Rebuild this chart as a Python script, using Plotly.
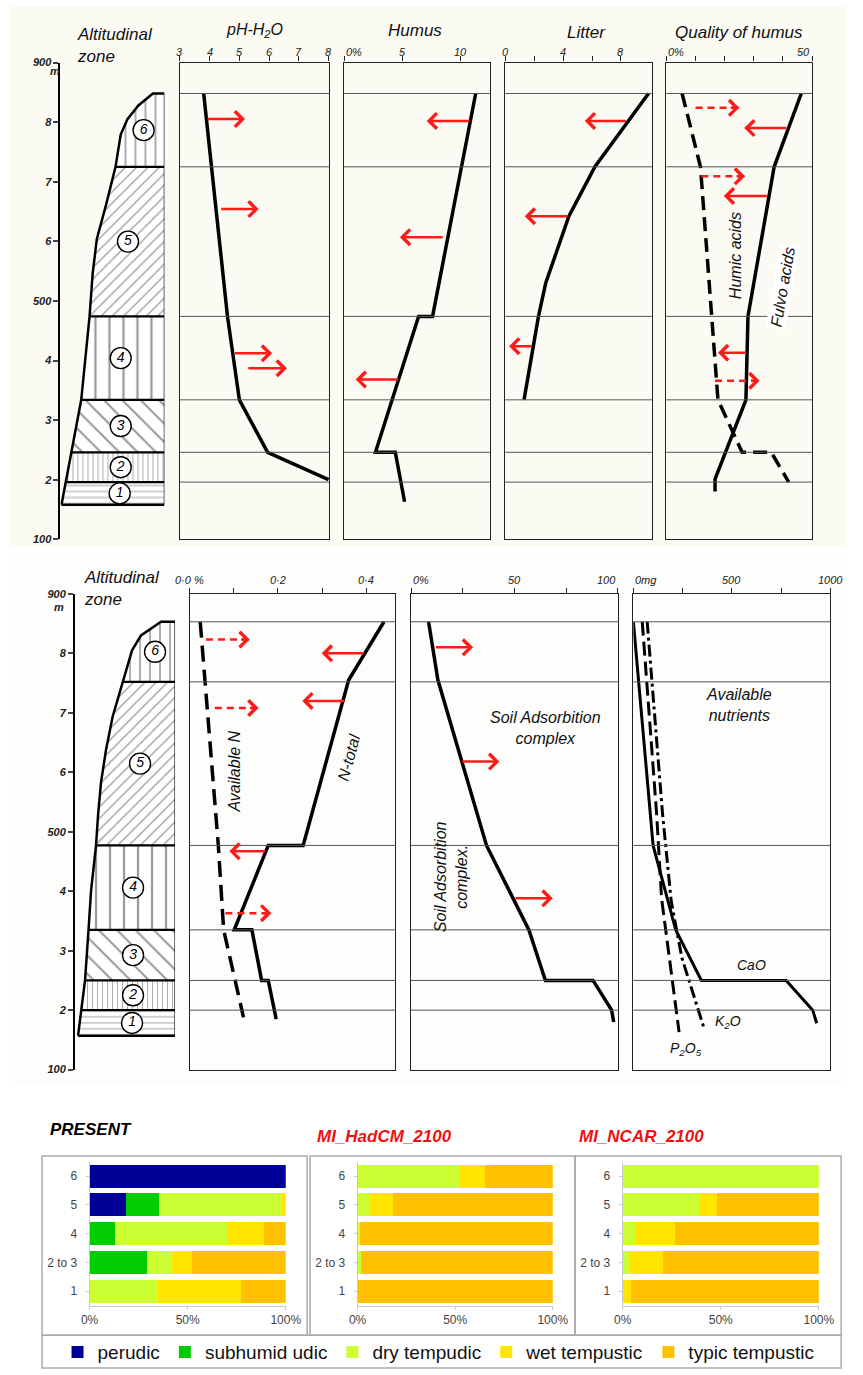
import numpy as np
import plotly.graph_objects as go

W, H = 863, 1375
FONT = "Liberation Sans, Arial, sans-serif"
RED = "#ff1a1a"

# ---------------------------------------------------------------- data ----
ALT_TICKS = [100, 200, 300, 400, 500, 600, 700, 800, 900]
ALT_TEXT = ["100", "2", "3", "4", "500", "6", "7", "8", "900"]
ZONES = ["1", "2", "3", "4", "5", "6"]

# zone boundaries (m a.s.l.): base of zone 1, then the top of zones 1..6
zone_bounds_upper = [158, 196, 246, 334, 474, 725, 848]
zone_bounds_lower = [157, 200, 250, 335, 477, 752, 853]

# outline of the mountain profile: altitude vs. relative position in the column
profile_alt_upper = [158, 196, 246, 334, 474, 546, 604, 662, 725, 779, 805, 828, 848]
profile_pos_upper = [0.01, 0.05, 0.10, 0.20, 0.28, 0.31, 0.35, 0.44, 0.53, 0.58, 0.645, 0.75, 0.89]
profile_alt_lower = [157, 200, 250, 335, 400, 477, 527, 583, 638, 693, 752, 805, 830, 853]
profile_pos_lower = [0.03, 0.06, 0.10, 0.135, 0.16, 0.21, 0.23, 0.26, 0.31, 0.375, 0.48, 0.57, 0.66, 0.86]

# soil properties along the altitudinal gradient
ph_alt = [848, 474, 334, 246, 200]
ph_val = [3.8, 4.6, 5.0, 5.95, 8.0]

humus_alt = [848, 474, 474, 246, 246, 163]
humus_val = [11.3, 7.6, 6.4, 2.7, 4.4, 5.2]

litter_alt = [848, 725, 642, 530, 474, 334]
litter_val = [9.9, 6.2, 4.4, 2.8, 2.3, 1.3]

fulvo_alt = [848, 725, 474, 334, 201, 180]
fulvo_val = [46.3, 37.0, 28.0, 27.3, 16.7, 16.7]
humic_alt = [848, 725, 334, 246, 246, 196]
humic_val = [5.4, 11.7, 17.7, 26.0, 36.0, 42.0]

ntotal_alt = [853, 755, 477, 477, 335, 335, 250, 250, 185]
ntotal_val = [0.44, 0.36, 0.257, 0.178, 0.101, 0.141, 0.163, 0.178, 0.196]
navail_alt = [853, 755, 477, 335, 188]
navail_val = [0.024, 0.035, 0.065, 0.077, 0.122]

sac_alt = [853, 755, 477, 335, 250, 250, 200, 180]
sac_val = [8.5, 13.0, 36.5, 57.0, 65.0, 88.0, 97.0, 98.0]

cao_alt = [853, 477, 335, 250, 250, 200, 178]
cao_val = [0, 100, 215, 345, 775, 910, 930]
k2o_alt = [853, 530, 383, 288, 168]
k2o_val = [70, 148, 192, 246, 360]
p2o5_alt = [853, 530, 388, 163]
p2o5_val = [45, 118, 143, 232]

# expected shifts: (altitude, from, to, dashed)
ph_arrows = [(805, 3.88, 5.19, False), (654, 4.34, 5.65, False),
             (412, 4.8, 6.1, False), (387, 5.25, 6.6, False)]
humus_arrows = [(802, 10.9, 7.1, False), (607, 8.6, 4.8, False), (368, 4.75, 1.0, False)]
litter_arrows = [(802, 8.45, 5.5, False), (642, 4.4, 1.35, False), (424, 1.95, 0.27, False)]
quality_arrows = [(824, 10, 25, True), (790, 41.7, 26.7, False), (709, 12, 27, True),
                  (676, 35, 19.7, False), (413, 27.7, 17.7, False), (366, 16.7, 32, True)]
n_arrows = [(823, 0.037, 0.136, True), (800, 0.398, 0.299, False), (720, 0.354, 0.255, False),
            (708, 0.057, 0.156, True), (467, 0.174, 0.09, False), (363, 0.081, 0.185, True)]
sac_arrows = [(810, 11.3, 30, False), (618, 24, 42.7, False), (388, 49.8, 68.5, False)]

# axis scales of the profile panels
ph_ticks, ph_ticklabels = [3, 4, 5, 6, 7, 8], ["3", "4", "5", "6", "7", "8"]
humus_ticks, humus_ticklabels = [0, 5, 10], ["0%", "5", "10"]
litter_ticks, litter_ticklabels = [0, 4, 8], ["0", "4", "8"]
quality_ticks, quality_ticklabels = [0, 50], ["0%", "50"]
n_ticks, n_ticklabels = [0, 0.2, 0.4], ["0·0 %", "0·2", "0·4"]
sac_ticks, sac_ticklabels = [0, 50, 100], ["0%", "50", "100"]
nutr_ticks, nutr_ticklabels = [0, 500, 1000], ["0mg", "500", "1000"]

# soil moisture regime shares (%) per altitudinal zone
bar_zones = ["1", "2 to 3", "4", "5", "6"]
regimes = ["perudic", "subhumid udic", "dry tempudic", "wet tempustic", "typic tempustic"]
regime_colors = ["#000099", "#00cc00", "#ccff33", "#ffe500", "#ffc000"]
present = {
    "perudic":         [0, 0, 0, 18.6, 100],
    "subhumid udic":   [0, 29.5, 12.9, 16.7, 0],
    "dry tempudic":    [34.8, 12.4, 57.4, 62.6, 0],
    "wet tempustic":   [42.6, 10.2, 18.7, 2.1, 0],
    "typic tempustic": [22.6, 47.9, 11.0, 0, 0],
}
hadcm_2100 = {
    "perudic":         [0, 0, 0, 0, 0],
    "subhumid udic":   [0, 0, 0, 0, 0],
    "dry tempudic":    [0, 1.8, 1.0, 6.0, 51.8],
    "wet tempustic":   [0, 0, 0, 12.0, 13.4],
    "typic tempustic": [100, 98.2, 99.0, 82.0, 34.8],
}
ncar_2100 = {
    "perudic":         [0, 0, 0, 0, 0],
    "subhumid udic":   [0, 0, 0, 0, 0],
    "dry tempudic":    [0, 3.0, 6.3, 39.0, 100],
    "wet tempustic":   [4.1, 17.6, 20.3, 9.0, 0],
    "typic tempustic": [95.9, 79.4, 73.4, 52.0, 0],
}

# ------------------------------------------------------------- helpers ----
def px(x):
    return x / W


def py(y):
    return 1 - y / H


def dom_x(a, b):
    return [a / W, b / W]


def dom_y(top, bottom):
    return [1 - bottom / H, 1 - top / H]


def key(axis, n):
    return f"{axis}axis" if n == 1 else f"{axis}axis{n}"


def ref(axis, n):
    return axis if n == 1 else f"{axis}{n}"


fig = go.Figure()
layout = {}
annotations = []
shapes = []

UPPER_Y = dom_y(57, 538)
LOWER_Y = dom_y(593, 1073)
tick_font = dict(family=FONT, size=11, color="#222", style="italic")


def zone_column(n, xdom, ydom, bounds, palt, ppos):
    layout[key("x", n)] = dict(domain=xdom, range=[0, 1], visible=False,
                               anchor=ref("y", n), fixedrange=True)
    layout[key("y", n)] = dict(domain=ydom, range=[100, 900], anchor=ref("x", n),
                               showline=True, linecolor="black", linewidth=2,
                               ticks="outside", ticklen=5, tickwidth=1.5,
                               tickvals=ALT_TICKS, ticktext=ALT_TEXT,
                               tickfont=dict(family=FONT, size=11, color="#222",
                                             style="italic", weight="bold"),
                               showgrid=False, zeroline=False, fixedrange=True)
    xr, yr = ref("x", n), ref("y", n)
    patterns = [("-", 6), ("|", 5), ("\\", 13), ("|", 14), ("/", 8), ("|", 10)]
    for i in range(6):
        lo, hi = bounds[i], bounds[i + 1]
        inner = [(a, p) for a, p in zip(palt, ppos) if lo < a < hi]
        la = [lo] + [a for a, _ in inner] + [hi]
        lp = [float(np.interp(lo, palt, ppos))] + [p for _, p in inner] + \
             [float(np.interp(hi, palt, ppos))]
        shape, size = patterns[i]
        fig.add_trace(go.Scatter(
            x=lp + [1, 1, lp[0]], y=la + [hi, lo, lo], mode="lines", fill="toself",
            fillcolor="white", line=dict(width=0),
            fillpattern=dict(shape=shape, size=size, solidity=0.16,
                             fgcolor="#333", bgcolor="white"),
            xaxis=xr, yaxis=yr, showlegend=False, hoverinfo="skip"))
    # zone boundaries
    for b in bounds[:-1]:
        fig.add_trace(go.Scatter(
            x=[float(np.interp(b, palt, ppos)), 1], y=[b, b], mode="lines",
            line=dict(color="black", width=2.3), xaxis=xr, yaxis=yr,
            showlegend=False, hoverinfo="skip"))
    # outline of the profile
    fig.add_trace(go.Scatter(
        x=list(ppos) + [1], y=list(palt) + [palt[-1]], mode="lines",
        line=dict(color="black", width=2.5),
        xaxis=xr, yaxis=yr, showlegend=False, hoverinfo="skip"))
    fig.add_trace(go.Scatter(
        x=[1, 1], y=[bounds[0], bounds[-1]], mode="lines",
        line=dict(color="black", width=1.2), xaxis=xr, yaxis=yr,
        showlegend=False, hoverinfo="skip"))
    # circled zone numbers
    lab_x = [0.57, 0.58, 0.58, 0.58, 0.65, 0.80]
    lab_y = [(bounds[i] + bounds[i + 1]) / 2 for i in range(6)]
    fig.add_trace(go.Scatter(
        x=lab_x, y=lab_y, mode="markers+text", text=ZONES,
        textfont=dict(family=FONT, size=14, color="black", style="italic"),
        textposition="middle center",
        marker=dict(symbol="circle", size=21, color="white",
                    line=dict(width=1.4, color="black")),
        xaxis=xr, yaxis=yr, showlegend=False, hoverinfo="skip"))


def panel(n, xdom, ydom, xrange, ticks, ticklabels, anchors, label_y, bounds, minor=None):
    allticks = sorted(set(list(ticks) + list(minor or [])))
    layout[key("x", n)] = dict(domain=xdom, range=xrange, anchor=ref("y", n), side="top",
                               showline=True, mirror=True, linecolor="#222", linewidth=1.3,
                               ticks="outside", ticklen=5, tickcolor="#222",
                               tickvals=allticks, showticklabels=False,
                               showgrid=False, zeroline=False, fixedrange=True)
    layout[key("y", n)] = dict(domain=ydom, range=[100, 900], anchor=ref("x", n),
                               showline=True, mirror=True, linecolor="#222", linewidth=1.3,
                               showticklabels=False, ticks="", showgrid=False,
                               zeroline=False, fixedrange=True)
    for v, t, a in zip(ticks, ticklabels, anchors):
        annotations.append(dict(x=v, xref=ref("x", n), y=py(label_y), yref="paper",
                                text=t, showarrow=False, xanchor=a, yanchor="middle",
                                font=tick_font))
    for b in bounds[1:]:
        shapes.append(dict(type="line", xref=f"{ref('x', n)} domain", x0=0, x1=1,
                           yref=ref("y", n), y0=b, y1=b,
                           line=dict(color="#555", width=1)))


def curve(n, vals, alts, width=3.5, dash="solid"):
    fig.add_trace(go.Scatter(x=vals, y=alts, mode="lines",
                             line=dict(color="black", width=width, dash=dash),
                             xaxis=ref("x", n), yaxis=ref("y", n),
                             showlegend=False, hoverinfo="skip"))


def arrows(n, items):
    xr, yr = ref("x", n), ref("y", n)
    for alt, x0, x1, dashed in items:
        if dashed:
            fig.add_trace(go.Scatter(x=[x0, x1], y=[alt, alt], mode="lines",
                                     line=dict(color=RED, width=2.5, dash="7px,5px"),
                                     xaxis=xr, yaxis=yr, showlegend=False,
                                     hoverinfo="skip"))
            annotations.append(dict(x=x1, y=alt, xref=xr, yref=yr, text="",
                                    showarrow=True, ax=-10 if x1 > x0 else 10, ay=0,
                                    arrowhead=4, arrowsize=1.2, arrowwidth=2.5,
                                    arrowcolor=RED))
        else:
            annotations.append(dict(x=x1, y=alt, xref=xr, yref=yr, ax=x0, ay=alt,
                                    axref=xr, ayref=yr, text="", showarrow=True,
                                    arrowhead=4, arrowsize=1.2, arrowwidth=2.5,
                                    arrowcolor=RED))


def label(x, y, text, size=16, angle=0, anchor="center", bg=None, **kw):
    d = dict(x=px(x), y=py(y), xref="paper", yref="paper", text=text, showarrow=False,
             textangle=angle, xanchor=anchor, yanchor="middle",
             font=dict(family=FONT, size=size, color="#111", style="italic"))
    if bg:
        d["bgcolor"] = bg
    d.update(kw)
    annotations.append(d)


# soft scanned-paper tone behind the upper drawn block
shapes.append(dict(type="rect", xref="paper", yref="paper", x0=0, x1=1,
                   y0=py(546), y1=1, fillcolor="#fbfaf3", line=dict(width=0), layer="below"))
shapes.append(dict(type="rect", xref="paper", yref="paper", x0=0, x1=1,
                   y0=py(1088), y1=py(549), fillcolor="#fdfdfb", line=dict(width=0),
                   layer="below"))

# ------------------------------------------------------- upper block ------
zone_column(1, dom_x(53, 160), UPPER_Y, zone_bounds_upper, profile_alt_upper, profile_pos_upper)

panel(2, dom_x(176, 330), UPPER_Y, [3, 8.03], ph_ticks, ph_ticklabels,
      ["center"] * 6, 46, zone_bounds_upper)
curve(2, ph_val, ph_alt)
arrows(2, ph_arrows)

panel(3, dom_x(345, 495), UPPER_Y, [0, 12.5], humus_ticks, humus_ticklabels,
      ["left", "center", "center"], 46, zone_bounds_upper)
curve(3, humus_val, humus_alt)
arrows(3, humus_arrows)

panel(4, dom_x(511, 662), UPPER_Y, [0, 10.13], litter_ticks, litter_ticklabels,
      ["center"] * 3, 46, zone_bounds_upper, minor=[2, 6])
curve(4, litter_val, litter_alt)
arrows(4, litter_arrows)

panel(5, dom_x(677, 827), UPPER_Y, [0, 50], quality_ticks, quality_ticklabels,
      ["left", "right"], 46, zone_bounds_upper, minor=[10, 20, 30, 40])
curve(5, humic_val, humic_alt, dash="14px,7px")
curve(5, fulvo_val, fulvo_alt)
arrows(5, quality_arrows)

label(68, 40, "Altitudinal<br>zone", size=17, anchor="left", align="left")
label(253, 25, "pH-H<sub>2</sub>O", size=16)
label(418, 25, "Humus", size=17)
label(595, 27, "Litter", size=17)
label(752, 27, "Quality of humus", size=17)
label(748, 252, "Humic acids", size=16, angle=-90)
label(797, 283, "Fulvo acids", size=16, angle=-80, bg="white")
annotations.append(dict(x=px(40), y=885, xref="paper", yref="y", text="m", showarrow=False,
                        yanchor="middle",
                        font=dict(family=FONT, size=11, color="#222", style="italic",
                                  weight="bold")))

# ------------------------------------------------------- lower block ------
zone_column(6, dom_x(68, 171), LOWER_Y, zone_bounds_lower, profile_alt_lower, profile_pos_lower)

panel(7, dom_x(186, 398), LOWER_Y, [0, 0.466], n_ticks, n_ticklabels,
      ["center", "center", "center"], 579, zone_bounds_lower, minor=[0.1, 0.3])
curve(7, navail_val, navail_alt, dash="16px,8px")
curve(7, ntotal_val, ntotal_alt)
arrows(7, n_arrows)

panel(8, dom_x(414, 627), LOWER_Y, [0, 100], sac_ticks, sac_ticklabels,
      ["left", "center", "right"], 579, zone_bounds_lower, minor=[25, 75])
curve(8, sac_val, sac_alt)
arrows(8, sac_arrows)

panel(9, dom_x(643, 846), LOWER_Y, [0, 1000], nutr_ticks, nutr_ticklabels,
      ["left", "center", "center"], 579, zone_bounds_lower, minor=[250, 750])
curve(9, cao_val, cao_alt, width=3)
curve(9, k2o_val, k2o_alt, width=3, dash="12px,4px,3px,4px")
curve(9, p2o5_val, p2o5_alt, width=3, dash="14px,6px")

label(75, 588, "Altitudinal<br>zone", size=17, anchor="left", align="left")
label(232, 772, "Available N", size=16, angle=-90)
label(350, 758, "N-total", size=16, angle=-75)
label(552, 728, "Soil Adsorbition<br>complex", size=16)
label(456, 878, "Soil Adsorbition<br>complex.", size=16, angle=-90)
label(752, 705, "Available<br>nutrients", size=16)
label(765, 967, "CaO", size=14)
label(740, 1025, "K<sub>2</sub>O", size=14)
label(697, 1052, "P<sub>2</sub>O<sub>5</sub>", size=14)
annotations.append(dict(x=px(44), y=878, xref="paper", yref="y6", text="m", showarrow=False,
                        yanchor="middle",
                        font=dict(family=FONT, size=11, color="#222", style="italic",
                                  weight="bold")))

# ----------------------------------------------------------- bar charts ----
BAR_Y = dom_y(1166, 1311)
bar_panels = [(10, dom_x(83, 285), present, True),
              (11, dom_x(359, 560), hadcm_2100, False),
              (12, dom_x(632, 834), ncar_2100, False)]
for n, xdom, table, show in bar_panels:
    layout[key("x", n)] = dict(domain=xdom, range=[0, 100], anchor=ref("y", n),
                               tickvals=[0, 50, 100], ticktext=["0%", "50%", "100%"],
                               tickfont=dict(family=FONT, size=12, color="#444"),
                               showline=True, linecolor="#c8c8c8", ticks="outside",
                               ticklen=3, tickcolor="#c8c8c8", showgrid=False,
                               zeroline=False, fixedrange=True)
    layout[key("y", n)] = dict(domain=BAR_Y, anchor=ref("x", n), type="category",
                               categoryorder="array", categoryarray=bar_zones,
                               tickfont=dict(family=FONT, size=12, color="#444"),
                               showline=True, linecolor="#c8c8c8", ticks="outside",
                               ticklen=3, tickcolor="#c8c8c8", showgrid=False,
                               fixedrange=True, ticklabelstandoff=6)
    for name, color in zip(regimes, regime_colors):
        fig.add_trace(go.Bar(y=bar_zones, x=table[name], orientation="h", name=name,
                             marker=dict(color=color, line=dict(width=0)),
                             xaxis=ref("x", n), yaxis=ref("y", n),
                             showlegend=show, legendgroup=name, hoverinfo="skip"))

for x0, x1 in [(34, 307), (310, 583), (583, 857)]:
    shapes.append(dict(type="rect", xref="paper", yref="paper", x0=px(x0), x1=px(x1),
                       y0=py(1341), y1=py(1160), line=dict(color="#aaaaaa", width=1.5)))
shapes.append(dict(type="rect", xref="paper", yref="paper", x0=px(34), x1=px(857),
                   y0=py(1374), y1=py(1341), line=dict(color="#aaaaaa", width=1.5)))

title_font = dict(family=FONT, size=17, style="italic", weight="bold")
annotations.append(dict(x=px(40), y=py(1133), xref="paper", yref="paper", text="PRESENT",
                        showarrow=False, xanchor="left", yanchor="middle",
                        font=dict(title_font, color="black")))
annotations.append(dict(x=px(315), y=py(1140), xref="paper", yref="paper",
                        text="MI_HadCM_2100", showarrow=False, xanchor="left",
                        yanchor="middle", font=dict(title_font, color="#ee1111")))
annotations.append(dict(x=px(585), y=py(1140), xref="paper", yref="paper",
                        text="MI_NCAR_2100", showarrow=False, xanchor="left",
                        yanchor="middle", font=dict(title_font, color="#ee1111")))

layout.update(
    width=W, height=H, margin=dict(l=0, r=0, t=0, b=0),
    paper_bgcolor="white", plot_bgcolor="rgba(0,0,0,0)",
    barmode="stack", bargap=0.2,
    font=dict(family=FONT, color="#222"),
    showlegend=True,
    legend=dict(orientation="h", x=px(50), xanchor="left", y=py(1358), yanchor="middle",
                font=dict(family=FONT, size=19, color="#111"), bgcolor="rgba(0,0,0,0)",
                itemwidth=30, traceorder="normal"),
    annotations=annotations, shapes=shapes,
)
fig.update_layout(**layout)
fig.write_html(
    "out.html",
    config={"responsive": False, "displayModeBar": False},
    post_script="document.body.style.margin='0';document.body.style.overflow='hidden';",
)
